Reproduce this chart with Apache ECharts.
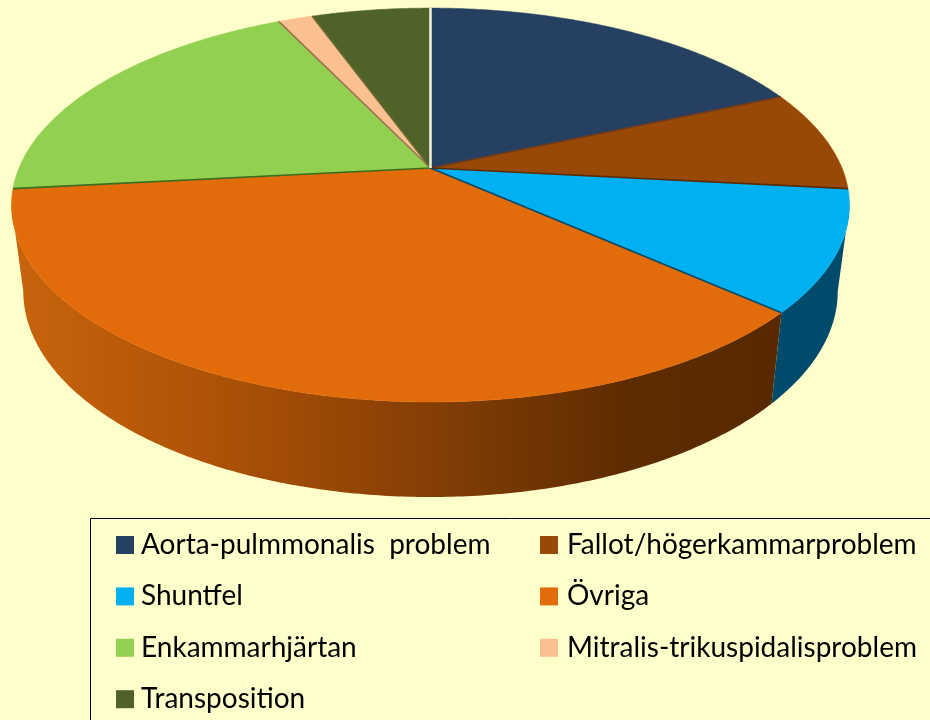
<!DOCTYPE html>
<html><head><meta charset="utf-8">
<style>html,body{margin:0;padding:0;background:#FFFFCC}#c{width:930px;height:720px}</style>
<script src="https://cdn.jsdelivr.net/npm/echarts@6/dist/echarts.min.js"></script>
</head><body><div id="c"></div>
<script>
(function(){
const categories = ['Aorta-pulmmonalis  problem','Fallot/högerkammarproblem','Shuntfel','Övriga','Enkammarhjärtan','Mitralis-trikuspidalisproblem','Transposition'];
const values = [18.4,8.3,9.9,36.7,19.6,1.6,5.5];
const colors = ['#254061','#984807','#00B0F0','#E26B0A','#92D050','#FAC090','#4F6228'];
const endEdges = ['#6b3a20','#5a2a00','#004B6B','#3f6b1e','#a07050','#6a6a30','#F4F4DC'];
const leftColumn = [categories[0],categories[2],categories[4],categories[6]];
const rightColumn = [categories[1],categories[3],categories[5]];

const total = values.reduce((a,b)=>a+b,0);
const apex = [430.5,168], A = 411.5, B = 190, K = 0.188;
const bot = {cy:252.5, a:A*0.972, b:B*1.045};
const front = [Math.acos(-K), 2*Math.PI-Math.acos(-K)];
function topPt(t){const X=Math.sin(t),Y=-Math.cos(t),w=1-K*Y;return [apex[0]+A*X/w, apex[1]+B*Y/w];}
function lowPt(t){const X=Math.sin(t),Y=-Math.cos(t),w=1-K*Y;return [apex[0]+bot.a*X/w, bot.cy+bot.b*Y/w];}
function arc(f,t0,t1){const n=Math.max(2,Math.ceil((t1-t0)/0.01)),p=[];for(let i=0;i<=n;i++)p.push(f(t0+(t1-t0)*i/n));return p;}

function wallFill(i){
  if(i===3) return new echarts.graphic.LinearGradient(0,0,1,0,[
    {offset:0,color:'#C9640C'},{offset:0.25,color:'#AF5307'},{offset:0.55,color:'#843E05'},{offset:0.8,color:'#5E2C01'},{offset:1,color:'#582900'}]);
  return '#004B6B';
}
function render(i){
  return function(){
    const before = values.slice(0,i).reduce((a,b)=>a+b,0);
    const t0 = before/total*2*Math.PI, t1 = (before+values[i])/total*2*Math.PI;
    const kids = [];
    const w0 = Math.max(t0,front[0]), w1 = Math.min(t1,front[1]);
    if(w1>w0){
      const pts = arc(topPt,w0,w1).concat(arc(lowPt,w0,w1).reverse());
      kids.push({type:'polygon',shape:{points:pts},style:{fill:wallFill(i),stroke:null}});
    }
    const pts = [apex].concat(arc(topPt,t0,t1));
    kids.push({type:'polygon',shape:{points:pts},style:{fill:colors[i],stroke:colors[i],lineWidth:0.5}});
    return {type:'group',children:kids};
  };
}
function renderEdges(){
  const kids=[];let c=0;
  values.forEach((v,i)=>{c+=v;const p=topPt(c/total*2*Math.PI);kids.push({type:'line',shape:{x1:apex[0],y1:apex[1],x2:p[0],y2:p[1]},
    style:{stroke:endEdges[i],lineWidth:i===6?2.5:1.6}});});
  return {type:'group',children:kids};
}
const chart = echarts.init(document.getElementById('c'),null,{renderer:'canvas'});
const legendBase = {orient:'vertical',selectedMode:false,icon:'rect',itemWidth:18,itemHeight:18,padding:0,top:531,height:189,itemGap:23.4};
const textStyle = {fontFamily:'Lato',fontSize:28,color:'#000',lineHeight:18};
chart.setOption({
  animation:false,
  backgroundColor:'#FFFFCC',
  graphic:[{type:'rect',z:0,shape:{x:90.5,y:518.5,width:900,height:300},style:{fill:'none',stroke:'#000',lineWidth:1}}],
  legend:[Object.assign({},legendBase,{left:116,textStyle:Object.assign({},textStyle,{padding:[0,0,0,2]}),data:leftColumn}),
          Object.assign({},legendBase,{left:540,textStyle:Object.assign({},textStyle,{padding:[0,0,0,4]}),data:rightColumn})],
  series:categories.map((name,i)=>({type:'custom',name,coordinateSystem:'none',silent:true,z:2,
      itemStyle:{color:colors[i]},data:[[values[i]]],renderItem:render(i)}))
    .concat([{type:'custom',coordinateSystem:'none',silent:true,z:3,data:[[0]],renderItem:renderEdges}])
});
})();
</script></body></html>
